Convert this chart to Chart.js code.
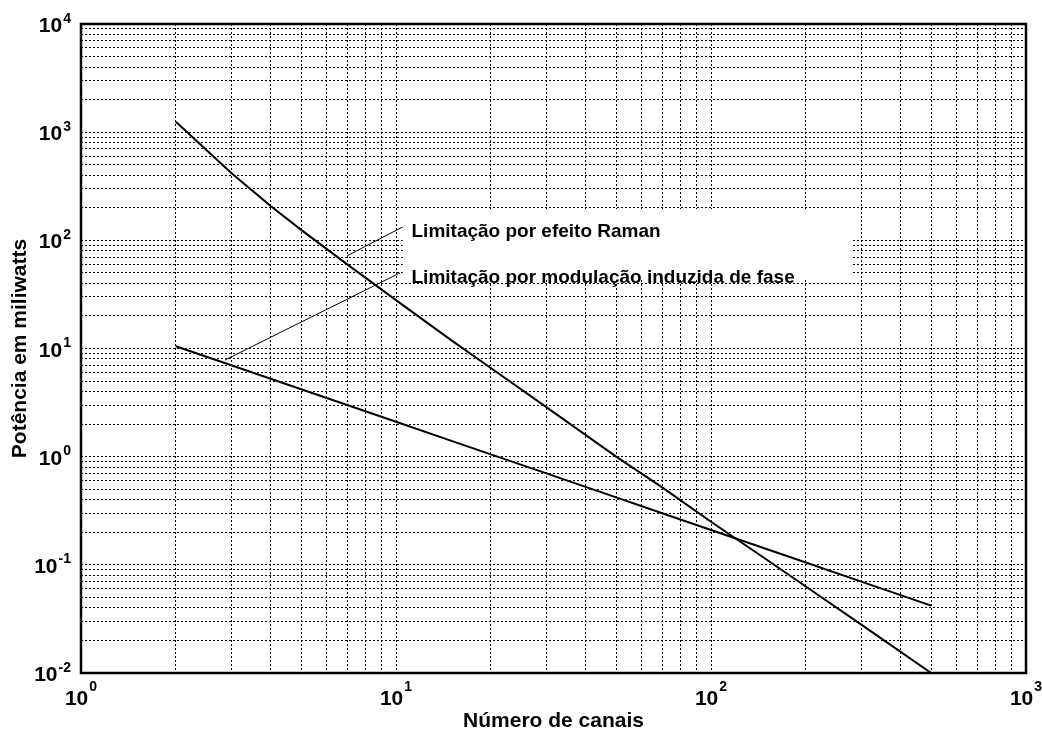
<!DOCTYPE html>
<html lang="pt">
<head>
  <meta charset="UTF-8" />
  <title>Potência x Número de canais</title>
  <script src="https://cdn.jsdelivr.net/npm/chart.js"></script>
  <style>
    body { margin: 0; background: #fff; }
    #wrap { width: 1042px; height: 733px; }
  </style>
</head>
<body>
  <div id="wrap"><canvas id="chart" width="1042" height="733"></canvas></div>

  <script>
    // número de canais (eixo x)
    const canais = [2, 3, 4, 5, 7, 10, 15, 20, 30, 50, 70, 100, 150, 200, 300, 500];
    // limitação por efeito Raman (mW)
    const raman = [1250, 420, 208, 125, 60, 28, 11.9, 6.6, 2.87, 1.0, 0.52, 0.25, 0.112, 0.063, 0.028, 0.01];
    // limitação por modulação induzida de fase (mW)
    const spm = [10.5, 7.0, 5.25, 4.2, 3.0, 2.1, 1.4, 1.05, 0.7, 0.42, 0.3, 0.21, 0.14, 0.105, 0.07, 0.042];

    const xExpoentes = [0, 1, 2, 3];
    const yExpoentes = [-2, -1, 0, 1, 2, 3, 4];

    const FONT = '"Liberation Sans", Arial, sans-serif';

    // anotações (em coordenadas dos dados)
    const notas = [
      { texto: 'Limitação por efeito Raman', x: 11.2, y: 107, de: [10.5, 133], ate: [7.0, 72] },
      { texto: 'Limitação por modulação induzida de fase', x: 11.2, y: 40.4, de: [10.3, 50], ate: [2.87, 7.85] }
    ];
    const caixa = { x0: 10.5, x1: 278, y0: 195, y1: 43 };

    function logTicks(min, max) {
      const out = [];
      for (let e = Math.log10(min); e < Math.log10(max); e++) {
        for (let k = 1; k <= 9; k++) out.push({ value: k * Math.pow(10, e) });
      }
      out.push({ value: max });
      return out;
    }

    const decor = {
      id: 'decor',
      beforeDatasetsDraw(chart) {
        const { ctx, scales: { x, y } } = chart;
        ctx.save();
        ctx.fillStyle = '#fff';
        const l = x.getPixelForValue(caixa.x0), r = x.getPixelForValue(caixa.x1);
        const t = y.getPixelForValue(caixa.y0), b = y.getPixelForValue(caixa.y1);
        ctx.fillRect(l, t, r - l, b - t);
        ctx.restore();
      },
      afterDatasetsDraw(chart) {
        const { ctx, scales: { x, y } } = chart;
        ctx.save();
        ctx.strokeStyle = '#000';
        ctx.lineWidth = 1;
        ctx.fillStyle = '#000';
        ctx.font = 'bold 19px ' + FONT;
        ctx.textBaseline = 'alphabetic';
        notas.forEach(n => {
          ctx.beginPath();
          ctx.moveTo(x.getPixelForValue(n.de[0]), y.getPixelForValue(n.de[1]));
          ctx.lineTo(x.getPixelForValue(n.ate[0]), y.getPixelForValue(n.ate[1]));
          ctx.stroke();
          ctx.fillText(n.texto, x.getPixelForValue(n.x), y.getPixelForValue(n.y));
        });
        ctx.restore();
      },
      afterDraw(chart) {
        const { ctx, chartArea: a, scales: { x, y } } = chart;
        ctx.save();
        // moldura
        ctx.strokeStyle = '#000';
        ctx.lineWidth = 2.5;
        ctx.strokeRect(a.left, a.top, a.right - a.left, a.bottom - a.top);

        ctx.fillStyle = '#000';
        ctx.textBaseline = 'alphabetic';
        const big = 'bold 21px ' + FONT, small = 'bold 14px ' + FONT;

        // rótulos do eixo y
        yExpoentes.forEach(e => {
          const py = y.getPixelForValue(Math.pow(10, e));
          ctx.font = small;
          const we = ctx.measureText(String(e)).width;
          ctx.font = big;
          const wb = ctx.measureText('10').width;
          const right = 71;
          ctx.fillText('10', right - we - wb - 1, py + 8);
          ctx.font = small;
          ctx.fillText(String(e), right - we, py - 1.5);
        });

        // rótulos do eixo x
        xExpoentes.forEach(e => {
          const px = x.getPixelForValue(Math.pow(10, e));
          ctx.font = small;
          const we = ctx.measureText(String(e)).width;
          ctx.font = big;
          const wb = ctx.measureText('10').width;
          const left = px - (wb + we + 1) / 2;
          ctx.fillText('10', left, 705);
          ctx.font = small;
          ctx.fillText(String(e), left + wb + 1, 691);
        });

        // títulos
        ctx.font = 'bold 21px ' + FONT;
        ctx.textAlign = 'center';
        ctx.fillText('Número de canais', (a.left + a.right) / 2, 727);
        ctx.translate(26, (a.top + a.bottom) / 2);
        ctx.rotate(-Math.PI / 2);
        ctx.fillText('Potência em miliwatts', 0, 0);
        ctx.restore();
      }
    };

    const eixo = (min, max) => ({
      type: 'logarithmic',
      min, max,
      afterBuildTicks: s => { s.ticks = logTicks(min, max); },
      ticks: { display: false },
      grid: { color: '#000', lineWidth: 1, drawTicks: false, tickLength: 0 },
      border: { display: false, dash: [2, 2] }
    });

    new Chart(document.getElementById('chart').getContext('2d'), {
      type: 'line',
      data: {
        datasets: [
          {
            label: 'Limitação por efeito Raman',
            data: canais.map((n, i) => ({ x: n, y: raman[i] })),
            borderColor: '#000', borderWidth: 2, pointRadius: 0, tension: 0
          },
          {
            label: 'Limitação por modulação induzida de fase',
            data: canais.map((n, i) => ({ x: n, y: spm[i] })),
            borderColor: '#000', borderWidth: 2, pointRadius: 0, tension: 0
          }
        ]
      },
      options: {
        responsive: false,
        animation: false,
        layout: { padding: { left: 81, top: 24, right: 16, bottom: 60 } },
        plugins: { legend: { display: false }, tooltip: { enabled: false } },
        scales: {
          x: eixo(1, 1000),
          y: eixo(0.01, 10000)
        }
      },
      plugins: [decor]
    });
  </script>
</body>
</html>
